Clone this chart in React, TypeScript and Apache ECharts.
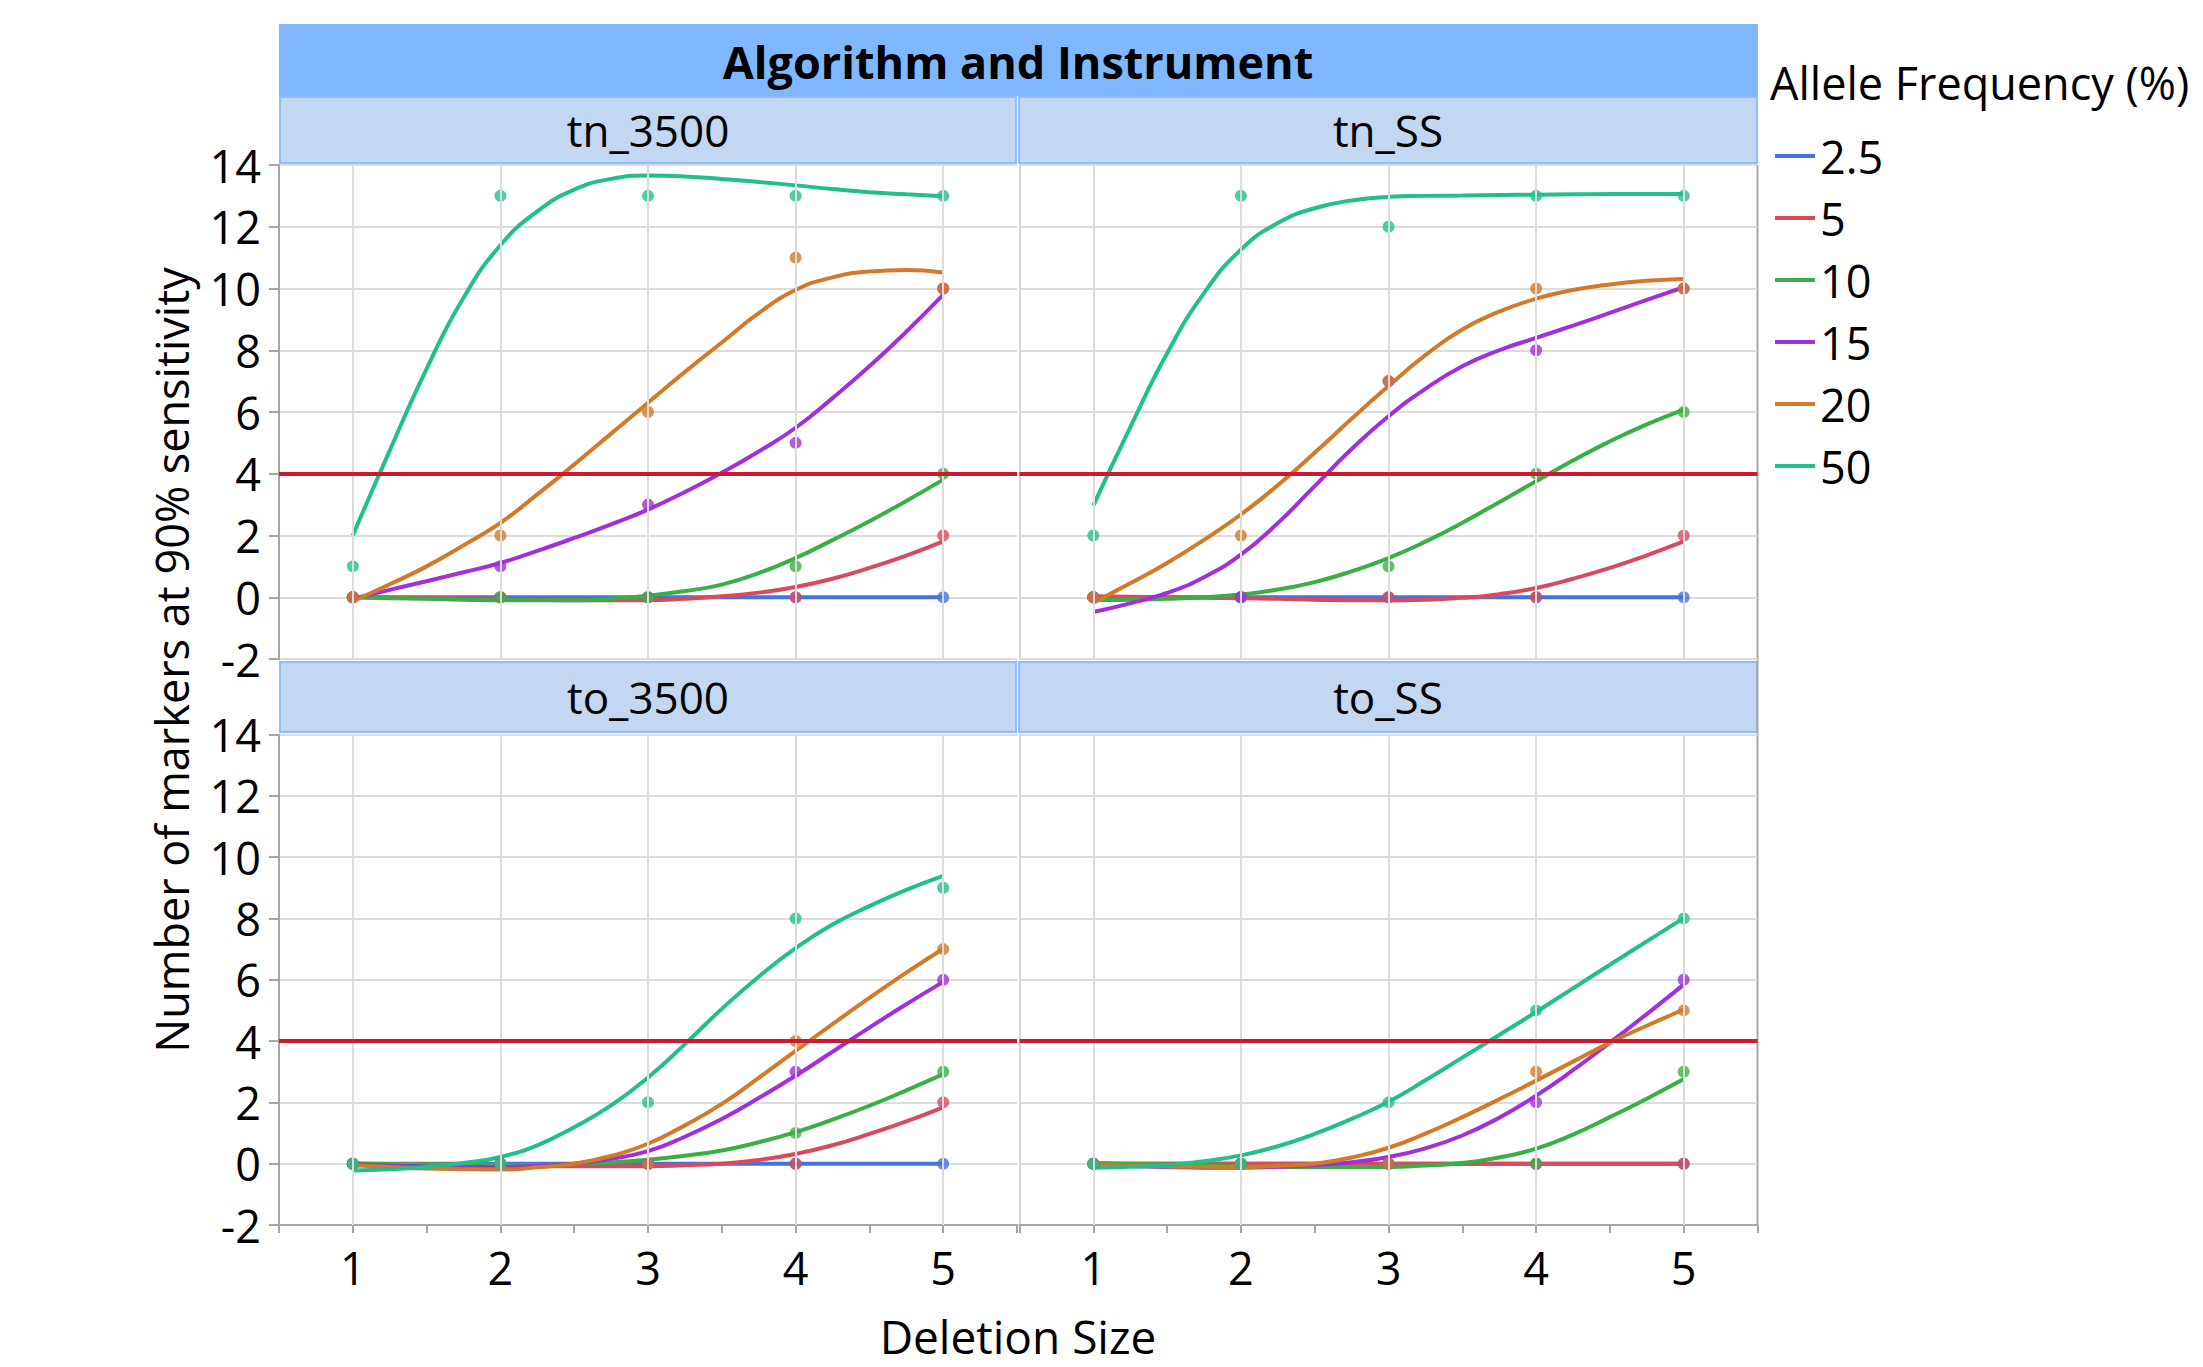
import React, { useEffect, useRef } from 'react';
import * as echarts from 'echarts';

// ---------- data ----------
const panelNames = ['tn_3500', 'tn_SS', 'to_3500', 'to_SS'];
const freqNames = ['2.5', '5', '10', '15', '20', '50'];
const freqColors = ['#4472E2', '#D84A5C', '#39B043', '#A22FDD', '#D27A27', '#21BF8E'];
const deletionSizes = [1, 2, 3, 4, 5];
const fitSizes = [1, 1.25, 1.5, 1.75, 2, 2.25, 2.5, 2.75, 3, 3.25, 3.5, 3.75, 4, 4.25, 4.5, 4.75, 5];
const threshold = 4;

// observed points (rows follow freqNames, columns follow deletionSizes)
const tn3500Pts = [
  [0, 0, 0, 0, 0],
  [0, 0, 0, 0, 2],
  [0, 0, 0, 1, 4],
  [0, 1, 3, 5, 10],
  [0, 2, 6, 11, 10],
  [1, 13, 13, 13, 13],
];
const tnSSPts = [
  [0, 0, 0, 0, 0],
  [0, 0, 0, 0, 2],
  [0, 0, 1, 4, 6],
  [0, 0, 7, 8, 10],
  [0, 2, 7, 10, 10],
  [2, 13, 12, 13, 13],
];
const to3500Pts = [
  [0, 0, 0, 0, 0],
  [0, 0, 0, 0, 2],
  [0, 0, 0, 1, 3],
  [0, 0, 0, 3, 6],
  [0, 0, 0, 4, 7],
  [0, 0, 2, 8, 9],
];
const toSSPts = [
  [0, 0, 0, 0, 0],
  [0, 0, 0, 0, 0],
  [0, 0, 0, 0, 3],
  [0, 0, 0, 2, 6],
  [0, 0, 0, 3, 5],
  [0, 0, 2, 5, 8],
];

// smoothing-spline fit (columns follow fitSizes)
const tn3500Fit = [
  [0, 0, 0, 0, 0, 0, 0, 0, 0, 0, 0, 0, 0, 0, 0, 0, 0],
  [0, -0.02, -0.03, -0.04, -0.05, -0.08, -0.1, -0.1, -0.1, -0.05, 0.03, 0.15, 0.33, 0.6, 0.95, 1.35, 1.81],
  [0, -0.03, -0.05, -0.08, -0.1, -0.1, -0.1, -0.05, 0.05, 0.2, 0.41, 0.78, 1.27, 1.85, 2.46, 3.12, 3.81],
  [-0.05, 0.24, 0.52, 0.81, 1.11, 1.5, 1.92, 2.36, 2.84, 3.41, 4.03, 4.72, 5.49, 6.45, 7.48, 8.6, 9.8],
  [-0.13, 0.42, 1.0, 1.68, 2.41, 3.33, 4.3, 5.3, 6.3, 7.3, 8.25, 9.2, 9.95, 10.36, 10.55, 10.6, 10.52],
  [2.0, 4.75, 7.4, 9.7, 11.4, 12.5, 13.2, 13.55, 13.66, 13.63, 13.55, 13.45, 13.34, 13.22, 13.12, 13.05, 12.99],
];
const tnSSFit = [
  [0, 0, 0, 0, 0, 0, 0, 0, 0, 0, 0, 0, 0, 0, 0, 0, 0],
  [0.03, 0.02, 0, -0.02, -0.03, -0.05, -0.08, -0.1, -0.1, -0.08, -0.02, 0.1, 0.3, 0.6, 0.95, 1.36, 1.81],
  [-0.1, -0.08, -0.05, 0, 0.09, 0.25, 0.49, 0.84, 1.27, 1.8, 2.41, 3.08, 3.76, 4.43, 5.05, 5.6, 6.08],
  [-0.48, -0.2, 0.14, 0.65, 1.38, 2.4, 3.6, 4.8, 5.86, 6.75, 7.48, 8.0, 8.4, 8.8, 9.21, 9.63, 10.04],
  [-0.18, 0.45, 1.11, 1.86, 2.68, 3.63, 4.68, 5.78, 6.84, 7.84, 8.67, 9.25, 9.67, 9.95, 10.13, 10.25, 10.31],
  [2.97, 5.5, 7.9, 9.85, 11.26, 12.12, 12.6, 12.85, 12.97, 13.0, 13.01, 13.03, 13.04, 13.05, 13.06, 13.06, 13.06],
];
const to3500Fit = [
  [0, 0, 0, 0, 0, 0, 0, 0, 0, 0, 0, 0, 0, 0, 0, 0, 0],
  [0, -0.01, -0.02, -0.03, -0.05, -0.07, -0.08, -0.08, -0.08, -0.05, 0, 0.12, 0.32, 0.6, 0.97, 1.38, 1.84],
  [0, -0.01, -0.02, -0.03, -0.04, -0.04, -0.02, 0.04, 0.13, 0.26, 0.43, 0.7, 1.03, 1.44, 1.89, 2.39, 2.92],
  [-0.02, -0.06, -0.09, -0.11, -0.11, -0.07, 0, 0.16, 0.41, 0.88, 1.46, 2.14, 2.87, 3.65, 4.44, 5.2, 5.93],
  [-0.05, -0.11, -0.16, -0.18, -0.19, -0.12, 0, 0.25, 0.65, 1.25, 1.95, 2.8, 3.68, 4.55, 5.41, 6.23, 7.01],
  [-0.22, -0.18, -0.11, 0.02, 0.22, 0.6, 1.19, 1.9, 2.81, 3.9, 5.05, 6.1, 7.03, 7.8, 8.4, 8.93, 9.39],
];
const toSSFit = [
  [0, 0, 0, 0, 0, 0, 0, 0, 0, 0, 0, 0, 0, 0, 0, 0, 0],
  [0, 0, 0, 0, 0, 0, 0, 0, 0, 0, 0, 0, 0, 0, 0, 0, 0],
  [0.02, -0.01, -0.03, -0.06, -0.09, -0.1, -0.11, -0.11, -0.11, -0.06, 0.02, 0.2, 0.49, 0.95, 1.52, 2.12, 2.76],
  [-0.02, -0.07, -0.11, -0.13, -0.13, -0.1, -0.05, 0.05, 0.22, 0.5, 0.92, 1.5, 2.22, 3.05, 3.95, 4.88, 5.84],
  [-0.03, -0.06, -0.09, -0.1, -0.11, -0.07, 0, 0.2, 0.52, 0.98, 1.52, 2.1, 2.71, 3.33, 3.95, 4.5, 5.03],
  [-0.13, -0.1, -0.05, 0.08, 0.27, 0.57, 0.97, 1.46, 2.02, 2.72, 3.46, 4.2, 4.95, 5.72, 6.49, 7.25, 8.01],
];

const panelPoints = [tn3500Pts, tnSSPts, to3500Pts, toSSPts];
const panelFits = [tn3500Fit, tnSSFit, to3500Fit, toSSFit];

// ---------- layout ----------
const FONT = '"Open Sans", "Noto Sans", sans-serif';
const FS = 45;
const LEFT_X = 279;
const RIGHT_X = 1019.5;
const PANEL_W = 738;
const TOP_Y = 165;
const TOP_H = 494;
const BOT_Y = 734.5;
const BOT_H = 490.5;
const gridBoxes = [
  { left: LEFT_X, top: TOP_Y, width: PANEL_W, height: TOP_H },
  { left: RIGHT_X, top: TOP_Y, width: PANEL_W, height: TOP_H },
  { left: LEFT_X, top: BOT_Y, width: PANEL_W, height: BOT_H },
  { left: RIGHT_X, top: BOT_Y, width: PANEL_W, height: BOT_H },
];
const headerBoxes = [
  { x: 280, y: 97, w: 736, h: 66 },
  { x: 1019, y: 97, w: 738, h: 66 },
  { x: 280, y: 662, w: 736, h: 70 },
  { x: 1019, y: 662, w: 738, h: 70 },
];

function buildOption() {
  const grid = gridBoxes.map((g) => ({ ...g, containLabel: false }));
  const xAxis = gridBoxes.map((_, i) => {
    const bottom = i >= 2;
    return {
      type: 'value',
      gridIndex: i,
      min: 0.5,
      max: 5.5,
      interval: 0.5,
      axisLine: { show: bottom, onZero: false, lineStyle: { color: '#A6A6A6', width: 2 } },
      axisTick: { show: bottom, length: 8, lineStyle: { color: '#A6A6A6', width: 2 } },
      axisLabel: {
        show: bottom,
        margin: 20,
        fontSize: FS,
        fontFamily: FONT,
        color: '#000',
        formatter: (v: number) =>
          Math.abs(v - Math.round(v)) < 1e-9 && v >= 1 && v <= 5 ? String(Math.round(v)) : '',
      },
      splitLine: { show: false },
    };
  });
  const yAxis = gridBoxes.map((_, i) => {
    const left = i % 2 === 0;
    return {
      type: 'value',
      gridIndex: i,
      min: -2,
      max: 14,
      interval: 2,
      axisLine: { show: true, onZero: false, lineStyle: { color: left ? '#A6A6A6' : '#D6D6D6', width: 2 } },
      axisTick: { show: left, length: 10, lineStyle: { color: '#A6A6A6', width: 2 } },
      axisLabel: {
        show: left,
        margin: 18,
        fontSize: FS,
        fontFamily: FONT,
        color: '#000',
      },
      splitLine: { show: true, lineStyle: { color: '#DCDCDC', width: 2 } },
    };
  });

  const series: any[] = [];
  for (let p = 0; p < 4; p++) {
    series.push({
      name: '__ref' + p,
      type: 'line',
      xAxisIndex: p,
      yAxisIndex: p,
      data: [],
      z: 1,
      silent: true,
      markLine: {
        silent: true,
        symbol: 'none',
        label: { show: false },
        animation: false,
        data: [
          ...deletionSizes.map((x) => ({
            xAxis: x,
            lineStyle: { color: '#DCDCDC', width: 2, type: 'solid' },
          })),
          { yAxis: threshold, lineStyle: { color: '#CE1A30', width: 4, type: 'solid' } },
        ],
      },
    });
  }
  for (let p = 0; p < 4; p++) {
    freqNames.forEach((name, f) => {
      series.push({
        name,
        type: 'line',
        xAxisIndex: p,
        yAxisIndex: p,
        smooth: 0.5,
        showSymbol: false,
        symbol: 'none',
        z: 3,
        color: freqColors[f],
        lineStyle: { color: freqColors[f], width: 4 },
        data: fitSizes.map((x, k) => [x, panelFits[p][f][k]]),
      });
    });
  }
  for (let p = 0; p < 4; p++) {
    freqNames.forEach((name, f) => {
      series.push({
        name,
        type: 'scatter',
        xAxisIndex: p,
        yAxisIndex: p,
        symbol: 'circle',
        symbolSize: 12,
        z: 4,
        itemStyle: { color: freqColors[f] },
        data: deletionSizes.map((x, k) => [x, panelPoints[p][f][k]]),
      });
    });
  }

  const graphic: any[] = [
    {
      type: 'rect',
      shape: { x: 279, y: 24, width: 1479, height: 72 },
      style: { fill: '#80B8FF' },
      z: 0,
    },
    {
      type: 'text',
      x: 1018,
      y: 61,
      style: {
        text: 'Algorithm and Instrument',
        fontSize: FS,
        fontWeight: 'bold',
        fontFamily: FONT,
        fill: '#000',
        textAlign: 'center',
        textVerticalAlign: 'middle',
      },
    },
    ...headerBoxes.map((h) => ({
      type: 'rect',
      shape: { x: h.x, y: h.y, width: h.w, height: h.h },
      style: { fill: '#C2D7F1', stroke: '#8EBEFB', lineWidth: 2 },
    })),
    ...headerBoxes.map((h, i) => ({
      type: 'text',
      x: h.x + h.w / 2,
      y: h.y + h.h / 2,
      style: {
        text: panelNames[i],
        fontSize: 44,
        fontFamily: FONT,
        fill: '#000',
        textAlign: 'center',
        textVerticalAlign: 'middle',
      },
    })),
    {
      type: 'line',
      shape: { x1: 1757.5, y1: TOP_Y, x2: 1757.5, y2: BOT_Y + BOT_H },
      style: { stroke: '#A6A6A6', lineWidth: 2 },
    },
    {
      type: 'text',
      x: 171,
      y: 660,
      rotation: Math.PI / 2,
      style: {
        text: 'Number of markers at 90% sensitivity',
        fontSize: FS,
        fontFamily: FONT,
        fill: '#000',
        textAlign: 'center',
        textVerticalAlign: 'middle',
      },
    },
    {
      type: 'text',
      x: 1018,
      y: 1336,
      style: {
        text: 'Deletion Size',
        fontSize: 46,
        fontFamily: FONT,
        fill: '#000',
        textAlign: 'center',
        textVerticalAlign: 'middle',
      },
    },
    {
      type: 'text',
      x: 1770,
      y: 82,
      style: {
        text: 'Allele Frequency (%)',
        fontSize: 45,
        fontFamily: FONT,
        fill: '#000',
        textAlign: 'left',
        textVerticalAlign: 'middle',
      },
    },
  ];

  return {
    animation: false,
    backgroundColor: '#FFFFFF',
    textStyle: { fontFamily: FONT },
    grid,
    xAxis,
    yAxis,
    legend: {
      data: freqNames,
      orient: 'vertical',
      left: 1770,
      top: 126,
      icon: 'rect',
      itemWidth: 40,
      itemHeight: 4,
      itemGap: 12,
      selectedMode: false,
      textStyle: { fontSize: FS, lineHeight: 50, color: '#000', fontFamily: FONT },
    },
    graphic,
    series,
  };
}

export default function App() {
  const ref = useRef<HTMLDivElement>(null);
  useEffect(() => {
    if (!ref.current) return;
    const chart = echarts.init(ref.current, undefined, { renderer: 'svg' });
    chart.setOption(buildOption() as any);
    return () => chart.dispose();
  }, []);
  return (
    <div
      ref={ref}
      style={{ position: 'fixed', left: 0, top: 0, width: 2203, height: 1367, background: '#fff' }}
    />
  );
}
